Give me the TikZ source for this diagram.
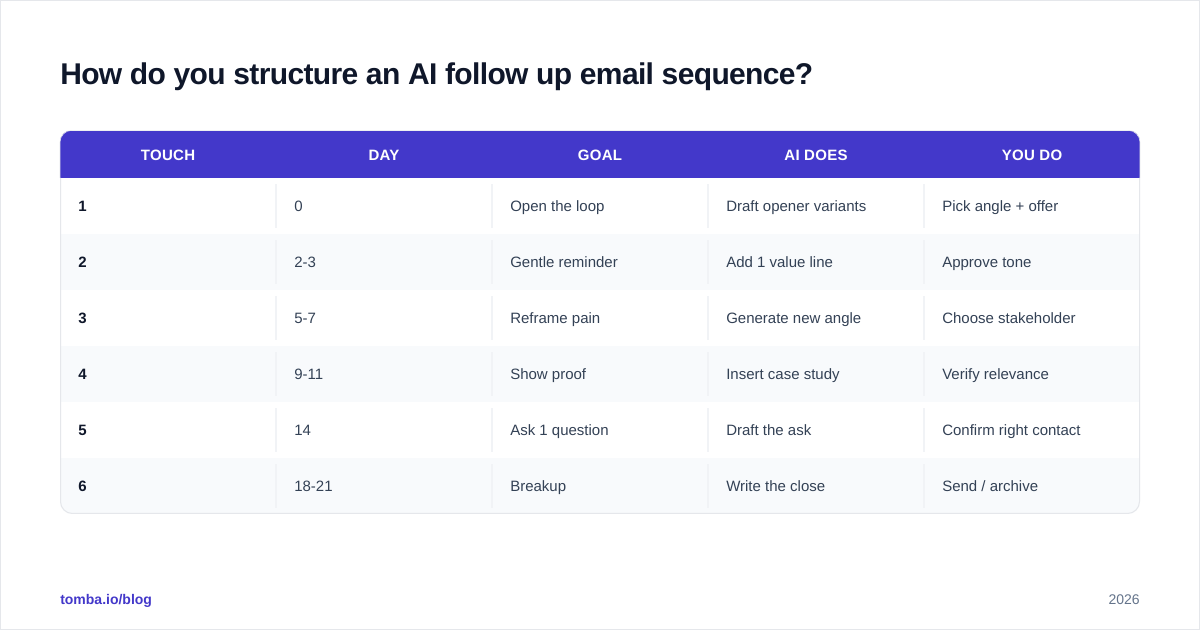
\documentclass[tikz,border=0pt]{standalone}
\usepackage{fontspec}
\setmainfont{Liberation Sans}

\begin{document}
\begin{tikzpicture}[x=0.75pt,y=-0.75pt,
	titletext/.style={anchor=base west,inner sep=0,font=\fontsize{22.5}{28}\selectfont\bfseries\addfontfeature{LetterSpace=-2.15},text=cTitle},
	headtext/.style={anchor=base,inner sep=0,font=\fontsize{11.25}{14}\selectfont\bfseries\addfontfeature{LetterSpace=2},text=white},
	touchtext/.style={anchor=base west,inner sep=0,font=\fontsize{11.25}{14}\selectfont\bfseries,text=cTitle},
	celltext/.style={anchor=base west,inner sep=0,font=\fontsize{11.25}{14}\selectfont,text=cCell},
	]
	\definecolor{cFrame}{HTML}{E5E7EB}
	\definecolor{cTitle}{HTML}{0F172A}
	\definecolor{cHead}{HTML}{4338CA}
	\definecolor{cCell}{HTML}{334155}
	\definecolor{cStripe}{HTML}{F8FAFC}
	\definecolor{cDivider}{HTML}{F1F3F6}
	\definecolor{cYear}{HTML}{64748B}

	\useasboundingbox (0,0) rectangle (1200,630);

	% page
	\fill[white] (0,0) rectangle (1200,630);
	\draw[cFrame, line width=1.5] (0,0) rectangle (1200,630);

	\node[titletext] (title) at (60,85) {How do you structure an AI follow up email sequence?};

	% table body
	\begin{scope}
		\clip[rounded corners=9] (60,130) rectangle (1140,514);
		\fill[white] (60,130) rectangle (1140,514);
		\fill[cHead] (60,131) rectangle (1140,178);
		\fill[cStripe] (60,234) rectangle (1140,290);
		\fill[cStripe] (60,346) rectangle (1140,402);
		\fill[cStripe] (60,458) rectangle (1140,514);
	\end{scope}
	\draw[cFrame, line width=0.75, rounded corners=9] (60.5,178) -- (60.5,513.5) -- (1139.5,513.5) -- (1139.5,178);
	\draw[cFrame, line width=0.4, rounded corners=9] (60,178) -- (60,130.3) -- (1140,130.3) -- (1140,178);

	% column rules
	\foreach \x in {276,492,708,924}
		\foreach \y in {184,240,296,352,408,464}
			\fill[cDivider] (\x-1,\y) rectangle (\x+1,\y+44);

	% header
	\node[headtext] (headTouch) at (168,161) {TOUCH};
	\node[headtext] (headDay) at (384,161) {DAY};
	\node[headtext] (headGoal) at (600,161) {GOAL};
	\node[headtext] (headAi) at (816,161) {AI DOES};
	\node[headtext] (headYou) at (1032,161) {YOU DO};

	% rows
	\node[touchtext] (touchA) at (78,212) {1};
	\node[celltext] (dayA) at (294,212) {0};
	\node[celltext] (goalA) at (510,212) {Open the loop};
	\node[celltext] (aiA) at (726,212) {Draft opener variants};
	\node[celltext] (youA) at (942,212) {Pick angle + offer};

	\node[touchtext] (touchB) at (78,268) {2};
	\node[celltext] (dayB) at (294,268) {2-3};
	\node[celltext] (goalB) at (510,268) {Gentle reminder};
	\node[celltext] (aiB) at (726,268) {Add 1 value line};
	\node[celltext] (youB) at (942,268) {Approve tone};

	\node[touchtext] (touchC) at (78,324) {3};
	\node[celltext] (dayC) at (294,324) {5-7};
	\node[celltext] (goalC) at (510,324) {Reframe pain};
	\node[celltext] (aiC) at (726,324) {Generate new angle};
	\node[celltext] (youC) at (942,324) {Choose stakeholder};

	\node[touchtext] (touchD) at (78,380) {4};
	\node[celltext] (dayD) at (294,380) {9-11};
	\node[celltext] (goalD) at (510,380) {Show proof};
	\node[celltext] (aiD) at (726,380) {Insert case study};
	\node[celltext] (youD) at (942,380) {Verify relevance};

	\node[touchtext] (touchE) at (78,436) {5};
	\node[celltext] (dayE) at (294,436) {14};
	\node[celltext] (goalE) at (510,436) {Ask 1 question};
	\node[celltext] (aiE) at (726,436) {Draft the ask};
	\node[celltext] (youE) at (942,436) {Confirm right contact};

	\node[touchtext] (touchF) at (78,492) {6};
	\node[celltext] (dayF) at (294,492) {18-21};
	\node[celltext] (goalF) at (510,492) {Breakup};
	\node[celltext] (aiF) at (726,492) {Write the close};
	\node[celltext] (youF) at (942,492) {Send / archive};

	% footer
	\node[anchor=base west, inner sep=0, font=\fontsize{10.5}{14}\selectfont\bfseries, text=cHead] (source) at (60,604.5) {tomba.io/blog};
	\node[anchor=base east, inner sep=0, font=\fontsize{10.5}{14}\selectfont, text=cYear] (year) at (1140,604.5) {2026};
\end{tikzpicture}
\end{document}
